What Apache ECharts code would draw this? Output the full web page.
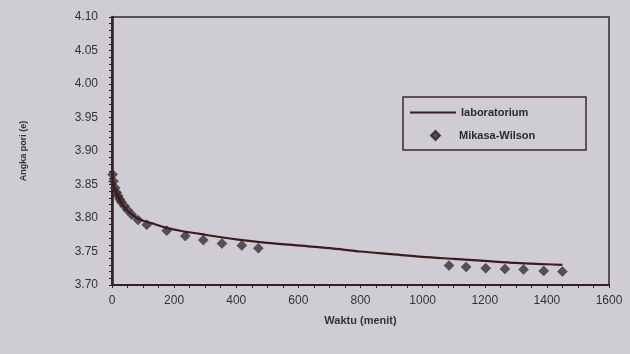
<!DOCTYPE html>
<html>
<head>
<meta charset="utf-8">
<script src="https://cdn.jsdelivr.net/npm/echarts@6/dist/echarts.min.js"></script>
<style>
html,body{margin:0;padding:0;background:#cfcdd3;}
#c{width:630px;height:354px;}
</style>
</head>
<body>
<div id="c"></div>
<script>
// Laboratory curve: time (minutes) and void ratio
const labTime = [0, 5, 10, 20, 30, 45, 60, 80, 100, 130, 170, 220, 300, 400, 500, 600, 700, 800, 900, 1000, 1100, 1200, 1300, 1400, 1450];
const labE    = [3.870, 3.852, 3.842, 3.831, 3.822, 3.813, 3.807, 3.800, 3.796, 3.792, 3.786, 3.781, 3.775, 3.768, 3.763, 3.759, 3.755, 3.750, 3.746, 3.742, 3.739, 3.736, 3.733, 3.731, 3.730];
// Mikasa-Wilson points
const mwTime = [2, 5, 10, 15, 20, 25, 30, 40, 50, 64, 84, 112, 176, 236, 294, 354, 418, 471, 1085, 1140, 1203, 1265, 1325, 1390, 1450];
const mwE    = [3.865, 3.855, 3.845, 3.838, 3.833, 3.828, 3.824, 3.818, 3.812, 3.805, 3.797, 3.790, 3.781, 3.773, 3.767, 3.762, 3.759, 3.755, 3.729, 3.727, 3.725, 3.724, 3.723, 3.721, 3.720];
const xTicks = [0, 200, 400, 600, 800, 1000, 1200, 1400, 1600];
const yTicks = ['3.70','3.75','3.80','3.85','3.90','3.95','4.00','4.05','4.10'];

const dark = '#2e2226';
const chart = echarts.init(document.getElementById('c'));
chart.setOption({
  backgroundColor: '#cfcdd3',
  animation: false,
  grid: {left: 112, top: 17, right: 21, bottom: 69, show: true, borderColor: '#2a2a2e', borderWidth: 1.5, backgroundColor: 'transparent'},
  xAxis: {
    type: 'value', min: xTicks[0], max: xTicks[xTicks.length-1], interval: 200,
    name: 'Waktu (menit)', nameLocation: 'middle', nameGap: 30,
    nameTextStyle: {fontFamily: 'Liberation Sans', fontWeight: 'bold', fontSize: 11, color: '#333'},
    axisLine: {lineStyle: {color: dark, width: 2}},
    axisTick: {length: 3, lineStyle: {color: dark}},
    minorTick: {show: true, splitNumber: 4, length: 3, lineStyle: {color: dark}},
    splitLine: {show: false},
    axisLabel: {fontFamily: 'Liberation Sans', fontSize: 12, color: '#333', margin: 10,
      formatter: v => String(xTicks.find(t => t === v) ?? v)}
  },
  yAxis: {
    type: 'value', min: 3.70, max: 4.10, interval: 0.05,
    name: 'Angka pori (e)', nameLocation: 'middle', nameGap: 84, nameRotate: 90,
    nameTextStyle: {fontFamily: 'Liberation Sans', fontWeight: 'bold', fontSize: 9, color: '#333'},
    axisLine: {lineStyle: {color: dark, width: 2.5}},
    axisTick: {length: 3, lineStyle: {color: dark}},
    minorTick: {show: true, splitNumber: 5, length: 3, lineStyle: {color: dark}},
    splitLine: {show: false},
    axisLabel: {fontFamily: 'Liberation Sans', fontSize: 12, color: '#333', margin: 14,
      formatter: v => yTicks.find(t => Math.abs(parseFloat(t) - v) < 1e-6) || v.toFixed(2)}
  },
  legend: [
    {data: [{name: 'laboratorium', icon: 'rect'}], left: 405, top: 102, itemWidth: 46, itemHeight: 2,
     textStyle: {fontFamily: 'Liberation Sans', fontWeight: 'bold', fontSize: 11, color: '#2a2a2a'}},
    {data: [{name: 'Mikasa-Wilson', icon: 'diamond'}], left: 425, top: 125, itemWidth: 9, itemHeight: 9,
     textStyle: {fontFamily: 'Liberation Sans', fontWeight: 'bold', fontSize: 11, color: '#2a2a2a', padding: [0,0,0,14]}}
  ],
  graphic: [{type: 'rect', shape: {x: 403, y: 97, width: 183, height: 53}, style: {fill: 'none', stroke: '#3a2a2e', lineWidth: 1.5}, z: 10}],
  series: [
    {name: 'laboratorium', type: 'line', data: labTime.map((t,i) => [t, labE[i]]), showSymbol: false, smooth: 0.3,
     lineStyle: {color: '#3b1c1e', width: 2.2}, itemStyle: {color: '#3b1c1e'}, z: 3},
    {name: 'Mikasa-Wilson', type: 'scatter', data: mwTime.map((t,i) => [t, mwE[i]]), symbol: 'diamond', symbolSize: 10,
     itemStyle: {color: '#3a3034', borderColor: '#2a2024', borderWidth: 0.5}, z: 2}
  ]
});
</script>
</body>
</html>
